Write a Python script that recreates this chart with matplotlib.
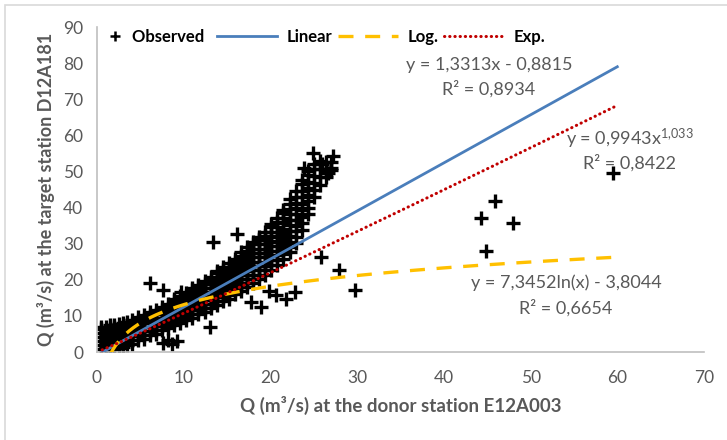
import matplotlib as mpl
mpl.use('Agg')
import matplotlib.pyplot as plt
from matplotlib.lines import Line2D
from matplotlib.legend_handler import HandlerBase
from matplotlib.patches import Rectangle
import numpy as np

plt.rcParams['font.family'] = ['Lato', 'DejaVu Sans']
plt.rcParams['mathtext.fontset'] = 'custom'
plt.rcParams['mathtext.rm'] = 'Lato'
plt.rcParams['mathtext.it'] = 'Lato'

# observed flows (donor x, target ys)
col_x = [0.5, 1.0, 1.5, 2.0, 2.5, 3.0, 3.5, 4.0, 4.7, 5.4, 6.1, 6.8, 7.5, 8.2,
         8.9, 9.6, 10.3, 11.0, 11.7, 12.4, 13.1, 13.8, 14.5, 15.2, 15.9, 16.6,
         17.3, 18.0, 18.7, 19.4, 20.1, 20.8, 21.5, 22.2, 22.9, 23.6, 24.3, 25.0,
         25.7, 26.4, 27.0]
col_y = [
    [0.8, 1.9, 3.0, 4.1, 5.2, 6.3, 7.0],
    [0.6, 1.4, 2.5, 3.6, 4.7, 5.8, 6.9],
    [0.8, 1.9, 3.0, 4.1, 5.2, 6.3, 7.4],
    [0.9, 1.4, 2.5, 3.6, 4.7, 5.8, 6.9, 7.6],
    [1.2, 2.3, 3.4, 4.5, 5.6, 6.7, 7.8],
    [1.4, 2.6, 3.7, 4.8, 5.9, 7.0, 8.0],
    [2.0, 3.1, 4.2, 5.3, 6.4, 7.5, 8.4],
    [2.3, 3.4, 4.5, 5.6, 6.7, 7.8, 8.8],
    [3.2, 4.3, 5.4, 6.5, 7.6, 8.7, 9.6],
    [3.6, 4.7, 5.8, 6.9, 8.0, 9.1, 10.2],
    [4.6, 5.7, 6.8, 7.9, 9.0, 10.1, 11.0],
    [5.0, 6.1, 7.2, 8.3, 9.4, 10.5, 11.6],
    [6.0, 7.1, 8.2, 9.3, 10.4, 11.5, 12.6],
    [6.6, 7.7, 8.8, 9.9, 11.0, 12.1, 13.2],
    [7.4, 8.5, 9.6, 10.7, 11.8, 12.9, 14.0, 14.8],
    [8.0, 9.1, 10.2, 11.3, 12.4, 13.5, 14.6, 15.6],
    [8.8, 9.9, 11.0, 12.1, 13.2, 14.3, 15.4, 16.4],
    [9.5, 10.6, 11.7, 12.8, 13.9, 15.0, 16.1, 17.2, 17.8],
    [10.4, 11.5, 12.6, 13.7, 14.8, 15.9, 17.0, 18.1, 18.6],
    [11.2, 12.3, 13.4, 14.5, 15.6, 16.7, 17.8, 18.9, 19.6],
    [12.2, 13.3, 14.4, 15.5, 16.6, 17.7, 18.8, 19.9, 20.8],
    [13.0, 14.1, 15.2, 16.3, 17.4, 18.5, 19.6, 20.7, 21.8, 22.4],
    [14.0, 15.1, 16.2, 17.3, 18.4, 19.5, 20.6, 21.7, 22.8, 23.6],
    [14.8, 15.9, 17.0, 18.1, 19.2, 20.3, 21.4, 22.5, 23.6, 24.7],
    [16.0, 17.1, 18.2, 19.3, 20.4, 21.5, 22.6, 23.7, 24.8, 25.8],
    [16.8, 17.9, 19.0, 20.1, 21.2, 22.3, 23.4, 24.5, 25.6, 26.7, 27.8],
    [18.0, 19.1, 20.2, 21.3, 22.4, 23.5, 24.6, 25.7, 26.8, 27.9, 29.0],
    [19.0, 20.2, 21.4, 22.6, 23.8, 25.0, 26.2, 27.4, 28.6, 29.8, 30.6],
    [20.2, 21.4, 22.6, 23.8, 25.0, 26.2, 27.4, 28.6, 29.8, 31.0, 31.8],
    [21.4, 22.6, 23.8, 25.0, 26.2, 27.4, 28.6, 29.8, 31.0, 32.2, 33.2],
    [22.8, 24.1, 25.4, 26.7, 28.0, 29.3, 30.6, 31.9, 33.2, 34.5, 35.4],
    [24.2, 25.5, 26.8, 28.1, 29.4, 30.7, 32.0, 33.3, 34.6, 35.9, 37.2],
    [25.8, 27.2, 28.6, 30.0, 31.4, 32.8, 34.2, 35.6, 37.0, 38.4, 39.4],
    [27.6, 29.1, 30.6, 32.1, 33.6, 35.1, 36.6, 38.1, 39.6, 41.1, 42.4],
    [30.2, 31.8, 33.4, 35.0, 36.6, 38.2, 39.8, 41.4, 43.0, 44.6],
    [33.8, 35.6, 37.4, 39.2, 41.0, 42.8, 44.6, 46.4, 47.6],
    [38.2, 40.0, 41.8, 43.6, 45.4, 47.2, 49.0, 50.2],
    [42.8, 44.8, 46.8, 48.8, 50.8, 52.0],
    [46.2, 48.4, 50.6, 52.8],
    [48.5, 50.5, 52.5],
    [50.5, 52.5],
]

# scattered points away from the main cloud
out_x = [6.1, 7.6, 9.7, 13.4, 16.2, 18.7, 25.8, 27.9, 29.8, 13.0, 8.2, 8.6, 9.2,
         7.6, 18.9, 21.8, 22.8, 20.6, 19.8, 17.8, 24.9, 27.2, 23.9, 26.6, 26.0,
         27.0, 59.5, 45.9, 44.3, 48.0, 44.9]
out_y = [19.0, 17.2, 16.6, 30.5, 32.7, 31.2, 26.4, 22.7, 17.2, 7.0, 3.3, 2.2, 3.0,
         2.6, 12.5, 14.8, 16.7, 15.8, 17.0, 13.8, 55.0, 54.3, 50.9, 49.6, 52.0,
         51.0, 49.5, 41.9, 37.0, 35.6, 28.1]

# trend line coefficients as printed on the chart
lin_a, lin_b = 1.3313, -0.8815
pow_a, pow_b = 0.9943, 1.033
log_a, log_b = 7.3452, -3.8044
x_min, x_max = 0.6, 60

obs_x = []
obs_y = []
for cx, ys in zip(col_x, col_y):
    obs_x += [cx] * len(ys)
    obs_y += ys
obs_x = np.array(obs_x + out_x)
obs_y = np.array(obs_y + out_y)

xs = np.linspace(x_min, x_max, 400)
lin_y = lin_a * xs + lin_b
pow_y = pow_a * xs ** pow_b
log_y = log_a * np.log(xs) + log_b

gray = '#595959'

fig = plt.figure(figsize=(7.27, 4.40), dpi=100)
fig.patches.append(Rectangle((5 / 727, -0.05), 1.1, 1 - 5 / 440 + 0.05,
                             transform=fig.transFigure, fill=False,
                             edgecolor='#d9d9d9', lw=1.2))
ax = fig.add_axes([0.1334, 0.2, 0.835, 0.7386])

ax.scatter(obs_x, obs_y, marker='+', s=90, c='black', linewidths=2.4,
           label='Observed', zorder=2)
ax.plot(xs, lin_y, color='#4a7ebb', lw=2.0, label='Linear', zorder=3)
ax.plot(xs, log_y, color='#ffc000', lw=2.4, ls=(0, (4.5, 3.5)),
        label='Log.', zorder=3)
ax.plot(xs, pow_y, color='#c00000', lw=2.2, ls=(0, (0.1, 1.6)),
        dash_capstyle='round', label='Exp.', zorder=3)

ax.set_xlim(0, 70)
ax.set_ylim(0, 90)
ax.set_xticks(np.arange(0, 71, 10))
ax.set_yticks(np.arange(0, 91, 10))
ax.tick_params(length=0, labelsize=12.5, labelcolor=gray)
ax.tick_params(axis='x', pad=13)
ax.tick_params(axis='y', pad=10)
for s in ['top', 'right']:
    ax.spines[s].set_visible(False)
for s in ['left', 'bottom']:
    ax.spines[s].set_color('#bfbfbf')
    ax.spines[s].set_linewidth(1.2)

ax.set_xlabel('Q (m³/s) at the donor station E12A003', fontsize=13.5,
              fontweight='bold', color=gray, labelpad=7)
ax.set_ylabel('Q (m³/s) at the target station D12A181', fontsize=13,
              fontweight='bold', color=gray, labelpad=6)

# fit equations
eq_kw = dict(ha='center', va='center', fontsize=13, color=gray)
ax.text(45.2, 79.6, 'y = 1,3313x - 0,8815', **eq_kw)
ax.text(45.2, 72.8, 'R² = 0,8934', **eq_kw)
ax.text(61.5, 59.0, 'y = 0,9943x$^{1{,}033}$', **eq_kw)
ax.text(61.4, 52.3, 'R² = 0,8422', **eq_kw)
ax.text(54.1, 19.1, 'y = 7,3452ln(x) - 3,8044', **eq_kw)
ax.text(54.1, 12.2, 'R² = 0,6654', **eq_kw)


class PlusHandler(HandlerBase):
    # puts the plus right next to the label, like the original legend
    def create_artists(self, legend, orig_handle, xdescent, ydescent,
                       width, height, fontsize, trans):
        m = Line2D([width - xdescent - 5], [height / 2 - ydescent],
                   marker='+', color='black', ms=7.5, mew=1.8, ls='none',
                   transform=trans)
        return [m]


handles, labels = ax.get_legend_handles_labels()
labels[0] = 'Observed  '   # a bit of extra room after the first entry
leg = ax.legend(handles, labels, ncol=4, frameon=False, loc='upper left',
                bbox_to_anchor=(-0.083, 1.04), handlelength=3.6,
                handletextpad=0.6, columnspacing=0.3, fontsize=12,
                handler_map={handles[0]: PlusHandler()})
for t in leg.get_texts():
    t.set_fontweight('bold')

fig.savefig('out.png', dpi=100)
